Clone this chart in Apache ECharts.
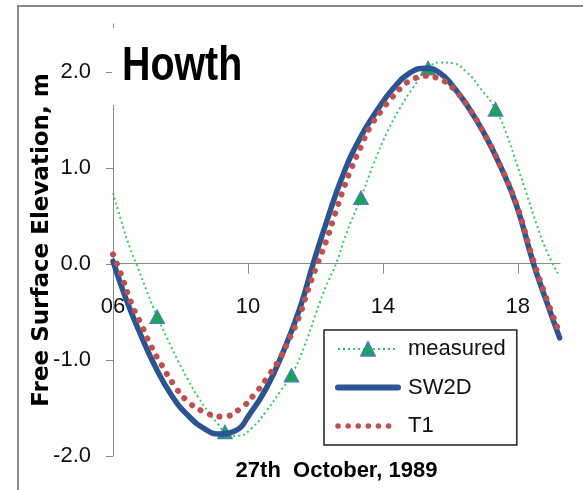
<!DOCTYPE html>
<html><head><meta charset="utf-8">
<script src="https://cdn.jsdelivr.net/npm/echarts@6/dist/echarts.min.js"></script>
<style>html,body{margin:0;padding:0;background:#fff}#c{width:583px;height:490px}</style>
</head><body><div id="c"></div>
<script>
// ---- data (hours on 27th October 1989, elevation in m) ----
const titleText = 'Howth';
const xTicks = [6, 10, 14, 18];
const yTicks = [-2, -1, 0, 1, 2];

const sw2dX = [6.0, 6.36, 6.75, 7.24, 7.74, 8.23, 8.73, 9.12, 9.61, 10.06, 10.55, 11.05, 11.54, 11.93, 12.33, 12.82, 13.32, 13.81, 14.31, 14.8, 15.29, 15.69, 16.08, 16.48, 16.97, 17.47, 17.96, 18.45, 18.85, 19.24];
const sw2dY = [0.03, -0.34, -0.68, -1.06, -1.37, -1.58, -1.72, -1.77, -1.74, -1.56, -1.29, -0.91, -0.46, 0.0, 0.44, 0.93, 1.31, 1.59, 1.83, 1.99, 2.04, 1.99, 1.85, 1.66, 1.38, 1.03, 0.61, 0.02, -0.39, -0.77];

const t1X = [6.0, 6.21, 6.57, 6.85, 7.12, 7.44, 7.79, 8.18, 8.70, 9.24, 9.76, 10.21, 10.6, 10.95, 11.24, 11.54, 11.8, 12.08, 12.33, 12.58, 12.82, 13.07, 13.37, 13.61, 13.96, 14.26, 14.55, 14.8, 15.1, 15.34, 15.59, 15.84, 16.08, 16.48, 16.97, 17.47, 17.96, 18.45, 18.85, 19.24];
const t1Y = [0.1, -0.08, -0.43, -0.64, -0.85, -1.05, -1.25, -1.42, -1.54, -1.59, -1.51, -1.35, -1.17, -0.98, -0.77, -0.53, -0.25, 0.02, 0.25, 0.52, 0.77, 1.0, 1.24, 1.42, 1.6, 1.73, 1.84, 1.91, 1.95, 1.96, 1.94, 1.9, 1.83, 1.66, 1.38, 1.03, 0.62, 0.05, -0.36, -0.72];

const measCurveX = [6.0, 6.26, 6.5, 6.75, 7.0, 7.64, 7.93, 8.23, 8.53, 8.82, 9.12, 9.71, 10.11, 10.55, 10.95, 11.69, 12.04, 12.33, 12.63, 12.92, 13.71, 14.11, 14.5, 14.9, 15.69, 16.08, 16.48, 16.87, 17.67, 17.96, 18.26, 18.55, 18.85, 19.19];
const measCurveY = [0.74, 0.43, 0.17, -0.05, -0.28, -0.80, -1.01, -1.21, -1.39, -1.54, -1.67, -1.79, -1.71, -1.53, -1.33, -0.84, -0.49, -0.22, 0.02, 0.32, 1.03, 1.36, 1.62, 1.84, 2.10, 2.09, 2.0, 1.84, 1.35, 1.05, 0.73, 0.42, 0.14, -0.10];

const measPtsX = [7.31, 9.32, 11.29, 13.35, 15.34, 17.34];
const measPtsY = [-0.55, -1.75, -1.16, 0.69, 2.04, 1.61];

// ---- build ----
const zip = (xs, ys) => xs.map((x, i) => [x, ys[i]]);
const measData = measCurveX.map((x, i) => ({ value: [x, measCurveY[i]], symbol: 'none' }))
  .concat(measPtsX.map((x, i) => ({ value: [x, measPtsY[i]], symbol: 'triangle' })))
  .sort((a, b) => a.value[0] - b.value[0]);

const FONT = "'Liberation Sans', Arial, sans-serif";
const AX = '#8a8a8a';

const chart = echarts.init(document.getElementById('c'), null, { renderer: 'canvas' });
chart.setOption({
  animation: false,
  backgroundColor: '#fff',
  graphic: [
    { type: 'rect', shape: { x: 18, y: 6, width: 620, height: 520 }, style: { fill: 'none', stroke: '#8c8c8c', lineWidth: 2 }, silent: true, z: 1 },
    { type: 'rect', shape: { x: 112, y: 28, width: 140, height: 77 }, style: { fill: '#fff' }, silent: true, z: 100 },
    { type: 'text', x: 122, y: 67, scaleX: 0.82, silent: true, z: 101,
      style: { text: titleText, fontFamily: FONT, fontWeight: 'bold', fontSize: 48, fill: '#000', verticalAlign: 'middle', align: 'left' } }
  ],
  grid: { left: 113, right: 23, top: 24, bottom: 34, outerBoundsMode: 'none' },
  legend: {
    orient: 'vertical', left: 324, top: 330,
    borderColor: '#222', borderWidth: 1.5, backgroundColor: '#fff',
    padding: [8, 11, 8, 11], itemWidth: 60, itemHeight: 17, itemGap: 16.5,
    textStyle: { fontFamily: FONT, fontSize: 22, lineHeight: 22, color: '#111', padding: [0, 0, 0, 5] },
    data: [
      { name: 'measured', lineStyle: { width: 2 } },
      { name: 'SW2D', itemStyle: { opacity: 0 }, lineStyle: { width: 6 } },
      { name: 'T1', itemStyle: { opacity: 0 }, lineStyle: { width: 5.5 } }
    ]
  },
  xAxis: {
    type: 'value', min: 6, max: 19.25, splitLine: { show: false }, offset: -192.3,
    axisLine: { onZero: false, lineStyle: { color: AX, width: 1 } },
    axisTick: { show: true, customValues: [10, 14, 18], length: 10, lineStyle: { color: AX } },
    axisLabel: { customValues: xTicks, formatter: v => (v < 10 ? '0' : '') + v, margin: 32, fontFamily: FONT, fontSize: 22, color: '#111' },
    name: '27th  October, 1989', nameLocation: 'middle', nameGap: 196, nameMoveOverlap: false,
    nameTextStyle: { fontFamily: FONT, fontWeight: 'bold', fontSize: 22, color: '#000' }
  },
  yAxis: {
    type: 'value', min: -2, max: 2.5, splitLine: { show: false },
    axisLine: { show: true, lineStyle: { color: AX, width: 1 } },
    axisTick: { show: true, customValues: yTicks, length: 7, lineStyle: { color: AX } },
    axisLabel: { customValues: yTicks, formatter: v => v.toFixed(1), margin: 22, fontFamily: FONT, fontSize: 22, color: '#111' },
    name: 'Free Surface Elevation, m', nameLocation: 'middle', nameGap: 59, nameRotate: 90, nameMoveOverlap: false,
    nameTextStyle: { fontFamily: "'DejaVu Sans', sans-serif", fontWeight: 'bold', fontSize: 23, color: '#000' }
  },
  series: [
    {
      name: 'measured', type: 'line', smooth: true, data: measData,
      symbol: 'triangle', symbolSize: [14, 13], showSymbol: true,
      lineStyle: { color: '#33CC66', width: 2, type: [2, 3] },
      itemStyle: { color: '#14A84E', borderColor: '#4A7EBB', borderWidth: 1.5 },
      z: 2
    },
    {
      name: 'SW2D', type: 'line', smooth: true, data: zip(sw2dX, sw2dY), symbol: 'none',
      lineStyle: { color: '#2B5592', width: 5.5, cap: 'round' }, itemStyle: { color: '#2B5592' }, z: 3
    },
    {
      name: 'T1', type: 'line', smooth: true, data: zip(t1X, t1Y), symbol: 'none',
      lineStyle: { color: '#C0504D', width: 6, type: [0.1, 10], cap: 'round' }, itemStyle: { color: '#C0504D' }, z: 4
    }
  ]
});
</script></body></html>
